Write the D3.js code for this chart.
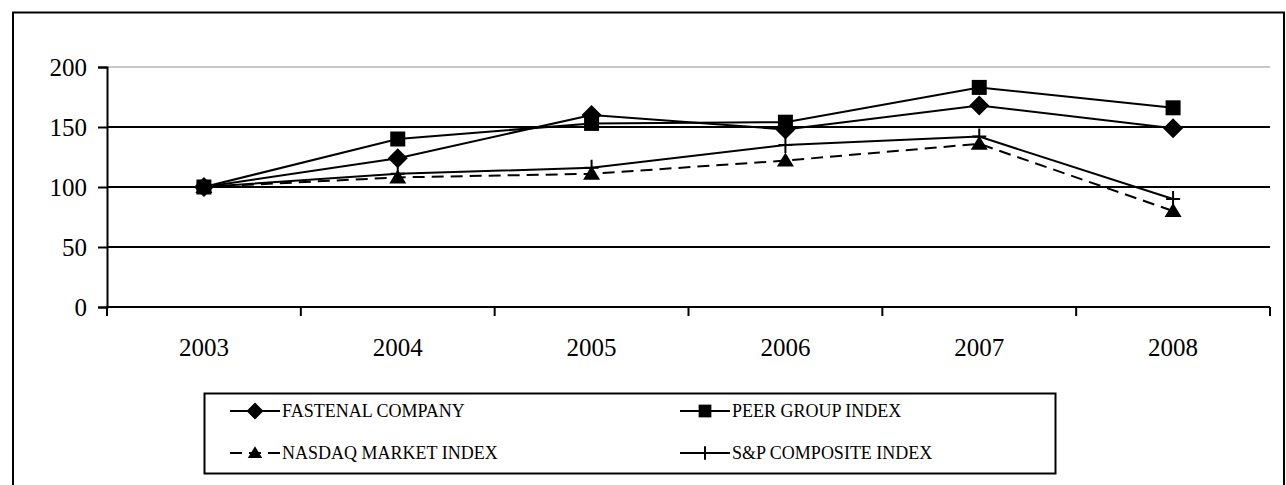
<!DOCTYPE html>
<html>
<head>
<meta charset="utf-8">
<script src="https://cdn.jsdelivr.net/npm/d3@7"></script>
<style>
  body { margin: 0; background: #fff; }
  text { font-family: "Liberation Serif", "Times New Roman", serif; fill: #000; }
</style>
</head>
<body>
<div id="chart"></div>
<script>
// Data
var years = ["2003", "2004", "2005", "2006", "2007", "2008"];
var fastenal = [100, 124, 160, 148, 168, 149];
var peer = [100, 140, 153, 154, 183, 166];
var nasdaq = [100, 108, 111, 122, 136, 80];
var sp = [100, 111, 116, 135, 142, 90];
var yTicks = [0, 50, 100, 150, 200];

var series = [
  {name: "FASTENAL COMPANY", values: fastenal, marker: "diamond", dash: null},
  {name: "PEER GROUP INDEX", values: peer, marker: "square", dash: null},
  {name: "NASDAQ MARKET INDEX", values: nasdaq, marker: "triangle", dash: "12,7"},
  {name: "S&P COMPOSITE INDEX", values: sp, marker: "plus", dash: null}
];

var W = 1286, H = 485;
var plotLeft = 107, plotRight = 1270, plotTop = 67, plotBottom = 307;

var svg = d3.select("#chart").append("svg")
  .attr("width", W)
  .attr("height", H);

// outer frame
svg.append("rect")
  .attr("x", 13).attr("y", 12.5)
  .attr("width", 1271).attr("height", 490)
  .attr("fill", "none").attr("stroke", "#000").attr("stroke-width", 2);

var x = d3.scaleBand().domain(years).range([plotLeft, plotRight]).padding(0);
var y = d3.scaleLinear().domain([0, 200]).range([plotBottom, plotTop]);

// gridlines
svg.append("g").selectAll("line")
  .data(yTicks.filter(function(d) { return d > 0; }))
  .enter().append("line")
  .attr("x1", plotLeft).attr("x2", plotRight)
  .attr("y1", function(d) { return y(d); })
  .attr("y2", function(d) { return y(d); })
  .attr("stroke", function(d) { return d == 200 ? "#c8c8c8" : "#000"; })
  .attr("stroke-width", 2);

// y axis
var yAxis = d3.axisLeft(y).tickValues(yTicks).tickSize(9).tickPadding(11);
var gy = svg.append("g")
  .attr("transform", "translate(" + plotLeft + ",0)")
  .call(yAxis);
gy.select(".domain").attr("stroke-width", 2);
gy.selectAll(".tick line").attr("stroke-width", 2);
gy.selectAll(".tick text")
  .style("font-family", "Liberation Serif")
  .style("font-size", "25px")
  .attr("fill", "#000");

// x axis: ticks at band boundaries, labels centred in the bands
svg.append("line")
  .attr("x1", plotLeft).attr("x2", plotRight)
  .attr("y1", plotBottom).attr("y2", plotBottom)
  .attr("stroke", "#000").attr("stroke-width", 2);

var edges = years.map(function(d) { return x(d); }).concat([plotRight]);
svg.append("g").selectAll("line")
  .data(edges)
  .enter().append("line")
  .attr("x1", function(d) { return d; }).attr("x2", function(d) { return d; })
  .attr("y1", plotBottom).attr("y2", plotBottom + 9)
  .attr("stroke", "#000").attr("stroke-width", 2);

svg.append("g").selectAll("text")
  .data(years)
  .enter().append("text")
  .attr("x", function(d) { return x(d) + x.bandwidth() / 2; })
  .attr("y", 356)
  .attr("text-anchor", "middle")
  .style("font-size", "25px")
  .text(function(d) { return d; });

// markers
function drawMarker(g, type, cx, cy, s) {
  s = s || 1;
  if (type == "diamond") {
    g.append("path")
      .attr("d", "M" + cx + "," + (cy - 10 * s) + "L" + (cx + 10 * s) + "," + cy + "L" + cx + "," + (cy + 10 * s) + "L" + (cx - 10 * s) + "," + cy + "Z")
      .attr("fill", "#000");
  } else if (type == "square") {
    g.append("rect")
      .attr("x", cx - 7.5 * s).attr("y", cy - 7.5 * s)
      .attr("width", 15 * s).attr("height", 15 * s)
      .attr("fill", "#000");
  } else if (type == "triangle") {
    g.append("path")
      .attr("d", "M" + cx + "," + (cy - 8 * s) + "L" + (cx + 8.5 * s) + "," + (cy + 6 * s) + "L" + (cx - 8.5 * s) + "," + (cy + 6 * s) + "Z")
      .attr("fill", "#000");
  } else if (type == "plus") {
    g.append("path")
      .attr("d", "M" + (cx - 7 * s) + "," + cy + "H" + (cx + 7 * s) + "M" + cx + "," + (cy - 8 * s) + "V" + (cy + 8 * s))
      .attr("stroke", "#000").attr("stroke-width", 2).attr("fill", "none");
  }
}

var line = d3.line()
  .x(function(d, i) { return x(years[i]) + x.bandwidth() / 2; })
  .y(function(d) { return y(d); });

series.forEach(function(s) {
  var g = svg.append("g");
  g.append("path")
    .attr("d", line(s.values))
    .attr("fill", "none")
    .attr("stroke", "#000")
    .attr("stroke-width", 2)
    .attr("stroke-dasharray", s.dash);
  s.values.forEach(function(v, i) {
    drawMarker(g, s.marker, x(years[i]) + x.bandwidth() / 2, y(v));
  });
});

// legend
var leg = svg.append("g");
leg.append("rect")
  .attr("x", 204.5).attr("y", 393.5)
  .attr("width", 851).attr("height", 80)
  .attr("fill", "none").attr("stroke", "#000").attr("stroke-width", 2);

var legPos = [[230, 411], [680, 411], [230, 453], [680, 453]];
series.forEach(function(s, i) {
  var lx = legPos[i][0], ly = legPos[i][1];
  leg.append("line")
    .attr("x1", lx).attr("x2", lx + 50)
    .attr("y1", ly).attr("y2", ly)
    .attr("stroke", "#000").attr("stroke-width", 2)
    .attr("stroke-dasharray", s.dash ? "12,7" : null);
  drawMarker(leg, s.marker, lx + 25, ly, 0.85);
  leg.append("text")
    .attr("x", lx + 52).attr("y", ly + 6)
    .style("font-size", "18px")
    .text(s.name);
});
</script>
</body>
</html>
